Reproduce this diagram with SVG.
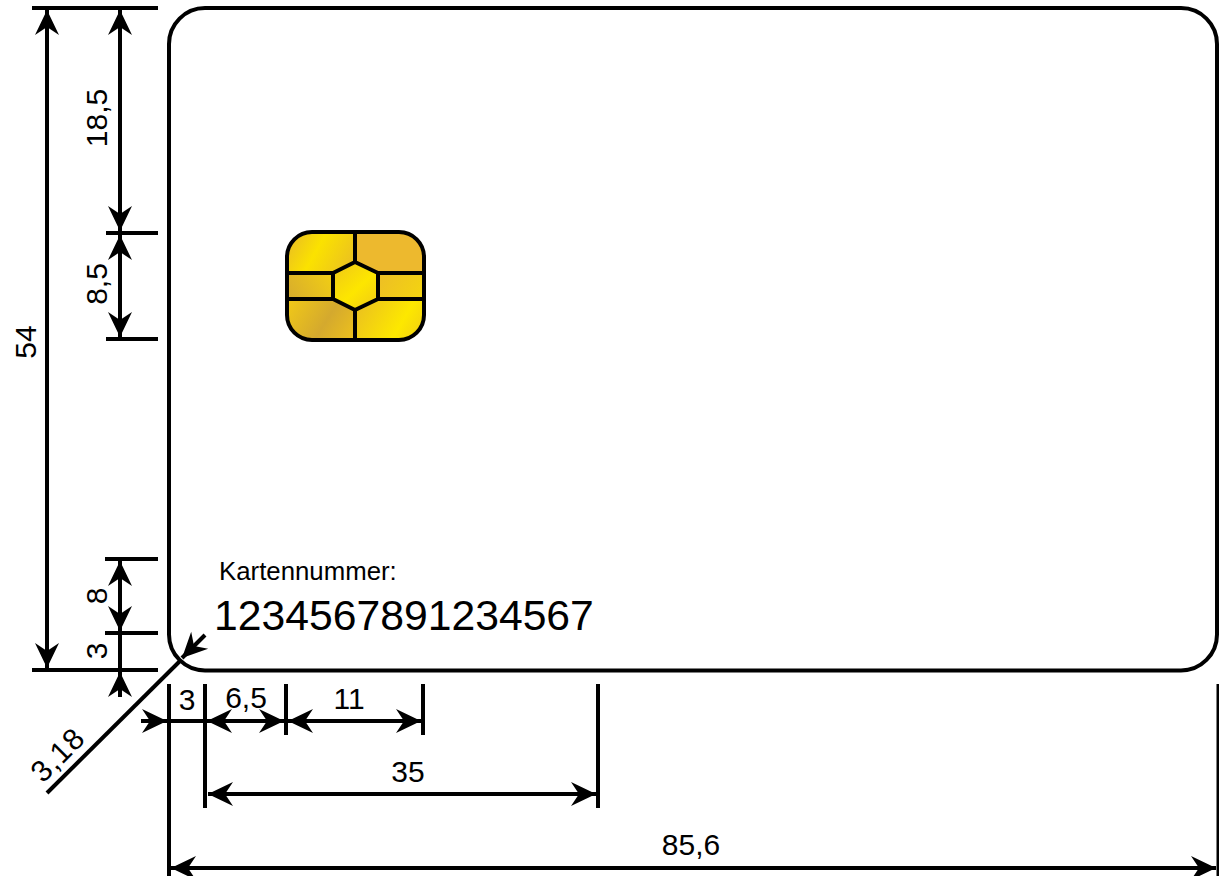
<svg xmlns="http://www.w3.org/2000/svg" width="1219" height="876" viewBox="0 0 1219 876">
<style>
text{font-family:"Liberation Sans",Arial,sans-serif;font-size:30px;fill:#000}
.l{stroke:#000;stroke-width:4;fill:none}
.t{stroke:#000;stroke-width:3;fill:none}
.a{stroke:#000;stroke-width:4;fill:none;marker-end:url(#arrow)}
.b{stroke:#000;stroke-width:4;fill:none;marker-start:url(#arrowS);marker-end:url(#arrow)}
.c{stroke:#000;stroke-width:4;fill:none;stroke-linejoin:round}
</style>
<defs>
<marker id="arrow" markerUnits="userSpaceOnUse" markerWidth="30" markerHeight="28" viewBox="-26 -14 30 28" refX="0" refY="0" orient="auto"><path d="M0,0L-25,-12L-17,0L-25,12Z" fill="#000"/></marker>
<marker id="arrowS" markerUnits="userSpaceOnUse" markerWidth="30" markerHeight="28" viewBox="-4 -14 30 28" refX="0" refY="0" orient="auto"><path d="M0,0L25,-12L17,0L25,12Z" fill="#000"/></marker>
<linearGradient id="g1" gradientUnits="userSpaceOnUse" x1="287" y1="236" x2="355" y2="274">
<stop offset="0" stop-color="#e8bb26"/><stop offset=".42" stop-color="#fbe200"/><stop offset="1" stop-color="#e8bb26"/>
</linearGradient>
<linearGradient id="g2" gradientUnits="userSpaceOnUse" x1="290" y1="300" x2="334" y2="274">
<stop offset="0" stop-color="#d8ad2c"/><stop offset="1" stop-color="#f2cf14"/>
</linearGradient>
<linearGradient id="g3" gradientUnits="userSpaceOnUse" x1="290" y1="300" x2="355" y2="340">
<stop offset="0" stop-color="#f0c818"/><stop offset=".55" stop-color="#d4a92e"/><stop offset="1" stop-color="#eec21c"/>
</linearGradient>
<linearGradient id="g4" gradientUnits="userSpaceOnUse" x1="355" y1="300" x2="424" y2="340">
<stop offset="0" stop-color="#e9bd22"/><stop offset=".65" stop-color="#fde800"/><stop offset="1" stop-color="#efcc14"/>
</linearGradient>
<linearGradient id="g5" gradientUnits="userSpaceOnUse" x1="333" y1="262" x2="378" y2="310">
<stop offset="0" stop-color="#eec61a"/><stop offset=".55" stop-color="#fde600"/><stop offset="1" stop-color="#efc818"/>
</linearGradient>
<linearGradient id="g6" gradientUnits="userSpaceOnUse" x1="378" y1="273" x2="424" y2="299">
<stop offset="0" stop-color="#edbe26"/><stop offset="1" stop-color="#f4d50f"/>
</linearGradient>
</defs>
<g id="card"><rect x="169" y="8" width="1048" height="662.500" rx="36" ry="36" fill="#fff" stroke="#000" stroke-width="4"/></g>
<g id="chip">
<path d="M312,232H355V262L333,273H287V257Q287,232 312,232Z" fill="url(#g1)"/>
<path d="M355,232H399Q424,232 424,257V273H378L355,262Z" fill="#edb92e"/>
<path d="M287,273H333V299H287Z" fill="url(#g2)"/>
<path d="M378,273H424V299H378Z" fill="url(#g6)"/>
<path d="M287,299H333L355,310V340H312Q287,340 287,315Z" fill="url(#g3)"/>
<path d="M355,310L378,299H424V315Q424,340 399,340H355Z" fill="url(#g4)"/>
<path d="M355,262L378,273V299L355,310L333,299V273Z" fill="url(#g5)"/>
<rect x="287" y="232" width="137" height="108" rx="25" ry="25" class="c"/>
<path class="c" d="M355,262L378,273V299L355,310L333,299V273ZM355,232V262M355,310V340M287,273H333M378,273H424M287,299H333M378,299H424"/>
</g>
<g id="connectors">
<path class="l" d="M32,8H158M106,233H158M106,339H158M105,559H158M105,633H158M32,670H158"/>
<path class="l" d="M169,684V876M205,684V808M286,684V735M423,684V735M598,684V808"/>
<path class="t" d="M1218,684V876"/>
<path class="l" d="M47,793L181,660"/>
<path class="b" d="M47,10V668"/>
<path class="b" d="M120,10V231"/>
<path class="b" d="M120,235V337"/>
<path class="b" d="M120,561V631"/>
<path class="a" d="M120,697V672"/>
<path class="l" d="M120,633V672"/>
<path class="a" d="M205,635L182,658"/>
<path class="a" d="M141,721H167"/>
<path class="l" d="M169,721H205"/>
<path class="b" d="M207,721H284"/>
<path class="b" d="M288,721H421"/>
<path class="b" d="M208,794H596"/>
<path class="b" d="M171,868H1216"/>
</g>
<g id="labels">
<text transform="translate(36,342) rotate(-90)" text-anchor="middle">54</text>
<text transform="translate(107,118) rotate(-90)" text-anchor="middle">18,5</text>
<text transform="translate(107,284) rotate(-90)" text-anchor="middle">8,5</text>
<text transform="translate(107,596) rotate(-90)" text-anchor="middle">8</text>
<text transform="translate(107,651) rotate(-90)" text-anchor="middle">3</text>
<text transform="translate(65,762) rotate(-45)" text-anchor="middle" letter-spacing="1">3,18</text>
<text x="187" y="710" text-anchor="middle">3</text>
<text x="246" y="708" text-anchor="middle">6,5</text>
<text x="349" y="709" text-anchor="middle">11</text>
<text x="408" y="782" text-anchor="middle">35</text>
<text x="691" y="855" text-anchor="middle">85,6</text>
<text x="219" y="580" style="font-size:25.800px">Kartennummer:</text>
<text x="214" y="630" style="font-size:42.700px">1234567891234567</text>
</g>
</svg>
